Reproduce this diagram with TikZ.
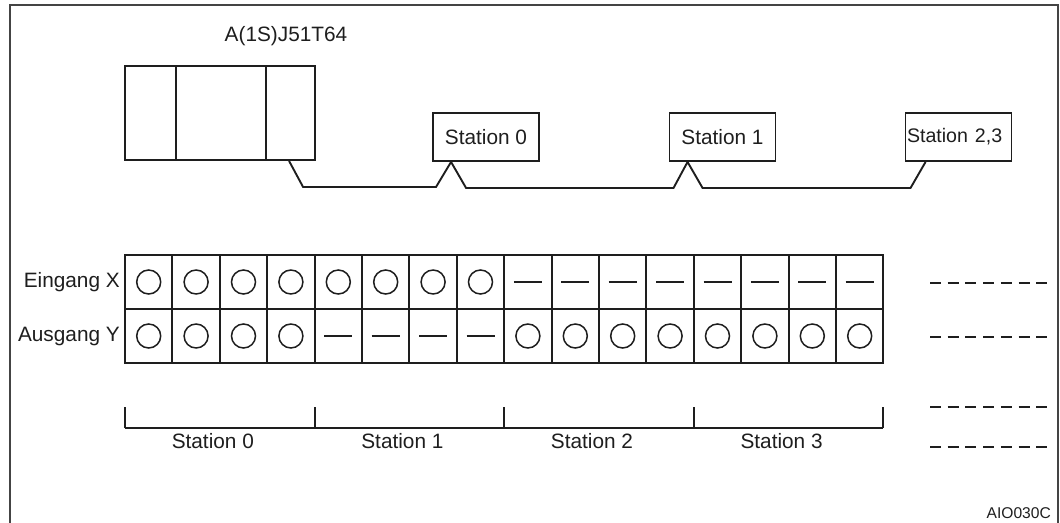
\documentclass[tikz,border=0pt]{standalone}
\usepackage{fontspec}
\setmainfont{Liberation Sans}
\usetikzlibrary{calc}
\definecolor{ink}{HTML}{1E1E1E}
\definecolor{framec}{HTML}{444444}
\begin{document}
\begin{tikzpicture}[x=1pt,y=-1pt,
  ln/.style={draw=ink, line width=1.9pt},
  lbl/.style={font=\fontsize{20.8}{24}\selectfont, text=ink, inner sep=0pt},
  sbox/.style={draw=ink, line width=1.9pt, inner sep=0pt, minimum width=106pt, minimum height=48pt, font=\fontsize{20.8}{24}\selectfont, text=ink},
  cell/.style={draw=ink, line width=2pt, minimum width=47.4pt, minimum height=54pt, inner sep=0pt},
  ring/.style={draw=ink, line width=1.5pt, circle, minimum size=24pt, inner sep=0pt},
  dashmark/.style={draw=ink, line width=1.6pt},
  farout/.style={draw=ink, line width=1.5pt, dash pattern=on 11pt off 6.7pt},
]
\useasboundingbox (0,0) rectangle (1060,522);
% frame (open at the bottom)
\draw[draw=framec, line width=2pt] (10,524) -- (10,5) -- (1058,5) -- (1058,524);

% controller module
\node[lbl] (title) at (286,36) {A(1S)J51T64};
\node[draw=ink, line width=1.9pt, minimum width=190pt, minimum height=94pt, inner sep=0pt] (ctrl) at (220,113) {};
\draw[ln] ([xshift=52pt]ctrl.north west) -- ([xshift=52pt]ctrl.south west);
\draw[ln] ([xshift=142pt]ctrl.north west) -- ([xshift=142pt]ctrl.south west);

% stations
\node[sbox] (s0) at (486,137) {Station 0};
\node[sbox] (s1) at (722.5,137) {Station 1};
\node[sbox, text width=104pt, align=left] (s2) at (958.5,137) {\hspace*{0.5pt}\fontsize{19.6}{24}\selectfont Station 2,3};
\coordinate (p0) at ([xshift=19pt]s0.south west);
\coordinate (p1) at ([xshift=19pt]s1.south west);
\coordinate (p2) at ([xshift=21pt]s2.south west);
\draw[ln, line join=miter] ([xshift=165pt]ctrl.south west) -- ++(14,26) coordinate (q0) -- (q0 -| {$(p0)+(-15,0)$}) -- (p0)
  -- ++(15,26) -- ($(p1)+(-14,26)$) -- (p1)
  -- ++(15,26) -- ($(p2)+(-15,26)$) -- (p2);

% I/O grid
\foreach \i in {0,...,15} {
  \node[cell] (x\i) at ({148.7+47.4*\i},282) {};
  \node[cell] (y\i) at ({148.7+47.4*\i},336) {};
}
\foreach \i in {0,...,7} \node[ring] at (x\i) {};
\foreach \i in {8,...,15} \draw[dashmark] ([xshift=-14pt]x\i.center) -- ([xshift=14pt]x\i.center);
\foreach \i in {0,...,3} \node[ring] at (y\i) {};
\foreach \i in {4,...,7} \draw[dashmark] ([xshift=-14pt]y\i.center) -- ([xshift=14pt]y\i.center);
\foreach \i in {8,...,15} \node[ring] at (y\i) {};

\node[lbl, anchor=east] (ex) at ([xshift=-4pt]x0.west) {Eingang X};
\node[lbl, anchor=east] (ay) at ([xshift=-4pt]y0.west) {Ausgang Y};

% station brackets
\foreach \k in {0,...,4} \coordinate (t\k) at ({125+189.6*\k},428);
\draw[ln] (t0) -- (t4);
\foreach \k in {0,...,4} \draw[ln] (t\k) -- ++(0,-21);
\foreach \k/\n in {0/0,1/1,2/2,3/3} \node[lbl] (st\k) at ({125+189.6*\k+94.8-7},441) {Station \n};

% continuation dashes
\draw[farout] (930,283) -- (1047,283);
\draw[farout] (930,337) -- (1047,337);
\draw[farout] (930,407) -- (1047,407);
\draw[farout] (930,447) -- (1047,447);

\node[font=\fontsize{15.6}{18}\selectfont, text=ink, inner sep=0pt, anchor=east] (code) at (1051,513) {AIO030C};
\end{tikzpicture}
\end{document}
